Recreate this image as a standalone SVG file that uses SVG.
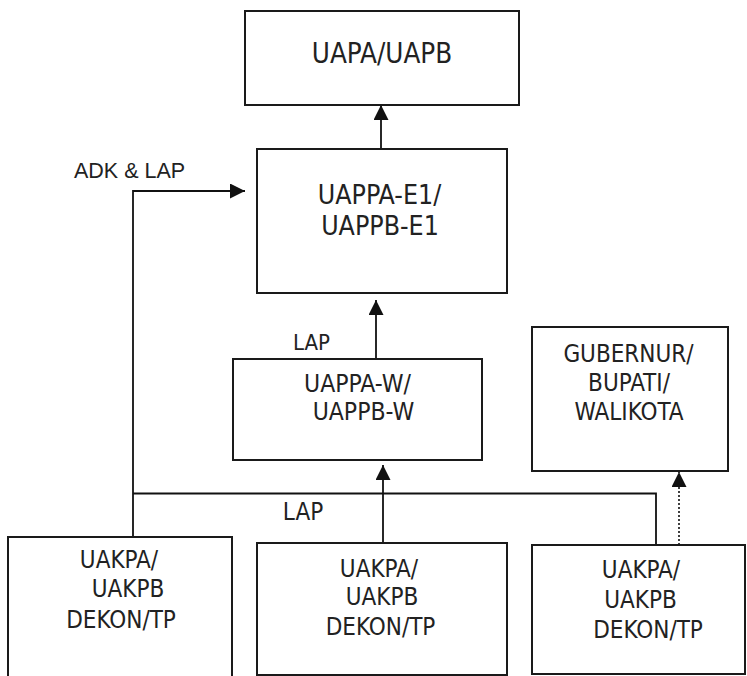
<svg xmlns="http://www.w3.org/2000/svg" width="747" height="676" viewBox="0 0 747 676">
  <style>
    .box { fill: #ffffff; stroke: #1a1a1a; stroke-width: 2; }
    .lbl { font-family: "DejaVu Sans Condensed", "DejaVu Sans", sans-serif; font-stretch: condensed; fill: #222222; text-anchor: middle; }
    .wire { fill: none; stroke: #111111; stroke-width: 1.8; }
    .dotted { fill: none; stroke: #111111; stroke-width: 1.6; stroke-dasharray: 2 2; }
    .note { font-family: "Liberation Sans", Arial, sans-serif; fill: #222222; }
  </style>
  <defs>
    <marker id="head" viewBox="0 0 16 16" refX="16" refY="8" markerWidth="16" markerHeight="15" markerUnits="userSpaceOnUse" orient="auto">
      <path d="M0,0 L16,8 L0,16 Z" fill="#111111"/>
    </marker>
  </defs>

  <rect width="747" height="676" fill="#ffffff"/>

  <!-- connectors -->
  <g id="connectors">
    <!-- E1 -> UAPA/UAPB -->
    <line class="wire" x1="381" y1="149" x2="381" y2="105" marker-end="url(#head)"/>
    <!-- W -> E1 -->
    <line class="wire" x1="376" y1="359" x2="376" y2="300" marker-end="url(#head)"/>
    <!-- left unit: up the side and across to E1 (ADK & LAP) -->
    <polyline class="wire" points="133,537 133,191 245,191" marker-end="url(#head)"/>
    <!-- shared bus from the right unit to the left trunk -->
    <polyline class="wire" points="656,545 656,493.5 133,493.5"/>
    <!-- middle unit -> W -->
    <line class="wire" x1="383" y1="543" x2="383" y2="465" marker-end="url(#head)"/>
    <!-- right unit -> GUBERNUR (dotted) -->
    <line class="dotted" x1="679" y1="545" x2="679" y2="472" marker-end="url(#head)"/>

    <text class="note" x="74" y="178" font-size="21.5">ADK &amp; LAP</text>
    <text class="lbl" x="311.5" y="350" font-size="22">LAP</text>
    <text class="lbl" x="303" y="520" font-size="24">LAP</text>
  </g>

  <g id="uapa">
    <rect class="box" x="245" y="11" width="274" height="94"/>
    <text class="lbl" x="382" y="63" font-size="27.5">UAPA/UAPB</text>
  </g>

  <g id="uappa-e1">
    <rect class="box" x="257" y="149" width="250" height="144"/>
    <text class="lbl" x="379.5" y="204" font-size="26.5">UAPPA-E1/</text>
    <text class="lbl" x="380" y="235" font-size="26.5">UAPPB-E1</text>
  </g>

  <g id="uappa-w">
    <rect class="box" x="233" y="359" width="249" height="101"/>
    <text class="lbl" x="357.5" y="392" font-size="24.5">UAPPA-W/</text>
    <text class="lbl" x="363.5" y="420" font-size="24.5">UAPPB-W</text>
  </g>

  <g id="gubernur">
    <rect class="box" x="532" y="327" width="196" height="144"/>
    <text class="lbl" x="628.5" y="362" font-size="24">GUBERNUR/</text>
    <text class="lbl" x="629" y="391" font-size="24">BUPATI/</text>
    <text class="lbl" x="629" y="420" font-size="24">WALIKOTA</text>
  </g>

  <g id="uakpa-left">
    <rect class="box" x="8" y="537" width="224" height="160"/>
    <text class="lbl" x="119" y="568" font-size="24">UAKPA/</text>
    <text class="lbl" x="128" y="597" font-size="24">UAKPB</text>
    <text class="lbl" x="121" y="628" font-size="24">DEKON/TP</text>
  </g>

  <g id="uakpa-middle">
    <rect class="box" x="257" y="543" width="250" height="132"/>
    <text class="lbl" x="379" y="577" font-size="24">UAKPA/</text>
    <text class="lbl" x="382" y="605" font-size="24">UAKPB</text>
    <text class="lbl" x="380.5" y="635" font-size="24">DEKON/TP</text>
  </g>

  <g id="uakpa-right">
    <rect class="box" x="532" y="545" width="213" height="129"/>
    <text class="lbl" x="641" y="578" font-size="24">UAKPA/</text>
    <text class="lbl" x="640.5" y="608" font-size="24">UAKPB</text>
    <text class="lbl" x="648" y="638" font-size="24">DEKON/TP</text>
  </g>
</svg>
